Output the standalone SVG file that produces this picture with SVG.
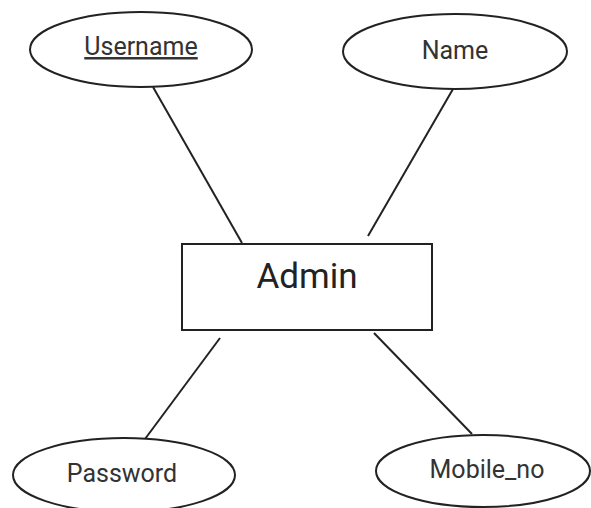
<svg xmlns="http://www.w3.org/2000/svg" width="591" height="508" viewBox="0 0 591 508">
<style>
.shape{fill:#fff;stroke:#222;stroke-width:2}
.conn{stroke:#222;stroke-width:2;fill:none}
.lbl{font-family:Roboto,"Liberation Sans",sans-serif;font-size:25px;fill:#333;text-anchor:middle}
.big{font-size:35px;fill:#222}
</style>
<rect width="591" height="508" fill="#fff"/>
<g id="connectors">
<line class="conn" x1="153" y1="87" x2="242" y2="243"/>
<line class="conn" x1="453" y1="89" x2="368" y2="236"/>
<line class="conn" x1="220" y1="338" x2="145" y2="439"/>
<line class="conn" x1="374" y1="333" x2="472" y2="434"/>
</g>
<g id="admin">
<rect class="shape" x="182" y="244" width="250" height="86"/>
<text class="lbl big" x="307" y="288">Admin</text>
</g>
<g id="username">
<ellipse class="shape" cx="141" cy="49.5" rx="111" ry="37.5"/>
<text class="lbl" x="141" y="55" text-decoration="underline">Username</text>
</g>
<g id="name">
<ellipse class="shape" cx="455" cy="51.5" rx="112" ry="37.5"/>
<text class="lbl" x="455" y="59">Name</text>
</g>
<g id="password">
<ellipse class="shape" cx="124" cy="475" rx="111" ry="37"/>
<text class="lbl" x="122" y="482">Password</text>
</g>
<g id="mobile_no">
<ellipse class="shape" cx="483" cy="471" rx="107" ry="36"/>
<text class="lbl" x="487" y="478">Mobile_no</text>
</g>
</svg>
